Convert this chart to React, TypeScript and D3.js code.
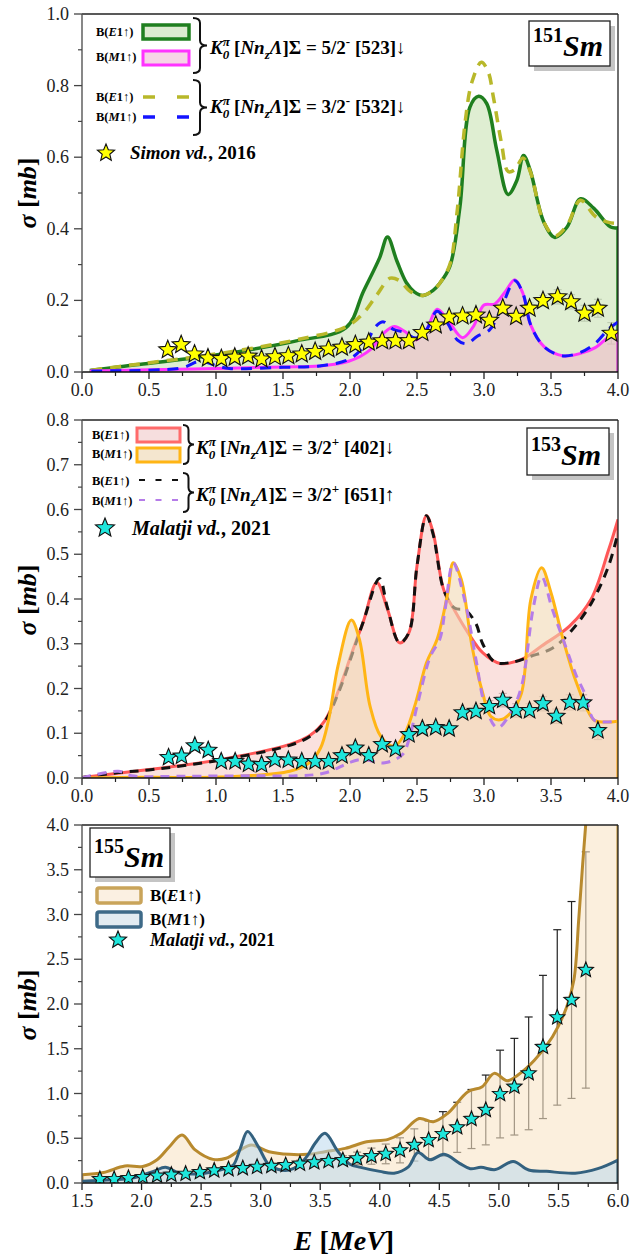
import React from "react";
import * as d3 from "d3";

type Pt = [number, number];
type Obs = [number, number, number];

const FONT = '"Liberation Serif", "Times New Roman", Times, serif';

// ---------- 151Sm ----------
const sm151E1a: Pt[] = [
  [0.07, 0.005], [0.4, 0.02], [0.8, 0.038], [1.2, 0.059], [1.6, 0.087], [1.97, 0.124],
  [2.1, 0.225], [2.22, 0.318], [2.28, 0.377], [2.35, 0.31], [2.42, 0.25], [2.48, 0.224],
  [2.545, 0.214], [2.62, 0.228], [2.67, 0.248], [2.745, 0.295], [2.82, 0.46], [2.895, 0.74],
  [2.96, 0.77], [3.02, 0.75], [3.095, 0.62], [3.18, 0.496], [3.245, 0.535], [3.295, 0.605],
  [3.345, 0.563], [3.445, 0.42], [3.53, 0.376], [3.62, 0.405], [3.72, 0.484], [3.82, 0.457],
  [3.945, 0.405], [4.0, 0.403],
];
const sm151E1b: Pt[] = [
  [0.07, 0.005], [0.4, 0.021], [0.8, 0.04], [1.2, 0.062], [1.6, 0.09], [1.97, 0.126],
  [2.1, 0.165], [2.2, 0.215], [2.3, 0.262], [2.37, 0.255], [2.45, 0.225], [2.545, 0.214],
  [2.62, 0.228], [2.67, 0.248], [2.745, 0.3], [2.8, 0.45], [2.86, 0.7], [2.91, 0.81],
  [2.98, 0.865], [3.03, 0.84], [3.07, 0.768], [3.13, 0.64], [3.18, 0.56], [3.23, 0.565],
  [3.29, 0.598], [3.345, 0.56], [3.445, 0.42], [3.53, 0.38], [3.62, 0.41], [3.72, 0.48],
  [3.83, 0.435], [3.93, 0.418], [4.0, 0.415],
];
const sm151M1a: Pt[] = [
  [0.07, 0.003], [0.5, 0.006], [1.0, 0.01], [1.5, 0.014], [1.77, 0.017], [1.99, 0.03],
  [2.15, 0.062], [2.25, 0.108], [2.33, 0.127], [2.41, 0.113], [2.49, 0.09], [2.57, 0.118],
  [2.65, 0.175], [2.73, 0.145], [2.84, 0.096], [2.92, 0.127], [3.0, 0.187], [3.08, 0.19],
  [3.16, 0.225], [3.23, 0.258], [3.29, 0.22], [3.35, 0.13], [3.45, 0.07], [3.59, 0.045],
  [3.72, 0.052], [3.83, 0.068], [3.93, 0.098], [4.0, 0.11],
];
const sm151M1b: Pt[] = [
  [0.07, 0.003], [0.5, 0.005], [0.75, 0.012], [0.88, 0.03], [1.0, 0.018], [1.1, 0.01],
  [1.5, 0.013], [1.77, 0.017], [1.99, 0.035], [2.1, 0.07], [2.2, 0.13], [2.25, 0.14],
  [2.32, 0.12], [2.41, 0.11], [2.49, 0.095], [2.57, 0.118], [2.65, 0.17], [2.73, 0.135],
  [2.8, 0.09], [2.87, 0.079], [2.95, 0.1], [3.04, 0.117], [3.12, 0.17], [3.23, 0.255],
  [3.29, 0.22], [3.35, 0.13], [3.45, 0.07], [3.59, 0.045], [3.72, 0.055], [3.83, 0.08],
  [3.93, 0.12], [4.0, 0.14],
];
const sm151Simon: Obs[] = [
  [0.64, 0.062, 0.005], [0.74, 0.076, 0.005], [0.84, 0.05, 0.005], [0.94, 0.039, 0.005],
  [1.04, 0.037, 0.005], [1.14, 0.041, 0.005], [1.24, 0.044, 0.005], [1.34, 0.036, 0.005],
  [1.44, 0.042, 0.005], [1.54, 0.045, 0.005], [1.64, 0.05, 0.005], [1.74, 0.057, 0.005],
  [1.84, 0.064, 0.005], [1.94, 0.069, 0.005], [2.04, 0.076, 0.005], [2.14, 0.083, 0.005],
  [2.24, 0.087, 0.006], [2.34, 0.087, 0.006], [2.44, 0.087, 0.006], [2.54, 0.11, 0.007],
  [2.64, 0.131, 0.008], [2.74, 0.153, 0.008], [2.84, 0.156, 0.009], [2.94, 0.159, 0.01],
  [3.04, 0.144, 0.01], [3.14, 0.178, 0.012], [3.24, 0.155, 0.012], [3.34, 0.178, 0.015],
  [3.44, 0.199, 0.015], [3.55, 0.21, 0.02], [3.65, 0.196, 0.02], [3.75, 0.164, 0.022],
  [3.85, 0.178, 0.025], [3.95, 0.108, 0.03],
];

// ---------- 153Sm ----------
const sm153E1a: Pt[] = [
  [0.0, 0.001], [0.5, 0.019], [1.03, 0.041], [1.55, 0.075], [1.7, 0.095], [1.81, 0.127],
  [1.92, 0.2], [2.02, 0.285], [2.1, 0.35], [2.2, 0.437], [2.28, 0.377], [2.37, 0.302],
  [2.44, 0.325], [2.5, 0.474], [2.57, 0.586], [2.62, 0.549], [2.7, 0.42], [2.78, 0.375],
  [2.88, 0.325], [2.99, 0.28], [3.12, 0.256], [3.28, 0.265], [3.43, 0.295], [3.64, 0.34],
  [3.8, 0.4], [3.93, 0.51], [4.0, 0.578],
];
const sm153E1b: Pt[] = [
  [0.0, 0.001], [0.27, 0.012], [0.5, 0.018], [1.03, 0.04], [1.55, 0.073], [1.7, 0.093],
  [1.81, 0.125], [1.92, 0.195], [2.02, 0.28], [2.1, 0.35], [2.22, 0.446], [2.28, 0.38],
  [2.37, 0.302], [2.44, 0.325], [2.5, 0.474], [2.57, 0.586], [2.62, 0.545], [2.7, 0.42],
  [2.78, 0.38], [2.86, 0.375], [2.94, 0.345], [2.99, 0.3], [3.08, 0.259], [3.2, 0.258],
  [3.35, 0.272], [3.51, 0.29], [3.64, 0.325], [3.8, 0.39], [3.93, 0.474], [4.0, 0.548],
];
const sm153M1a: Pt[] = [
  [0.0, 0.0], [0.5, 0.0015], [1.03, 0.002], [1.55, 0.015], [1.7, 0.035], [1.78, 0.067],
  [1.84, 0.13], [1.91, 0.25], [2.01, 0.353], [2.07, 0.31], [2.15, 0.16], [2.23, 0.093],
  [2.33, 0.071], [2.41, 0.1], [2.49, 0.168], [2.57, 0.257], [2.65, 0.31], [2.73, 0.414],
  [2.77, 0.481], [2.83, 0.444], [2.91, 0.295], [2.99, 0.19], [3.05, 0.138], [3.12, 0.13],
  [3.2, 0.146], [3.28, 0.19], [3.35, 0.4], [3.43, 0.47], [3.5, 0.414], [3.59, 0.31],
  [3.69, 0.213], [3.82, 0.13], [3.9, 0.125], [4.0, 0.127],
];
const sm153M1b: Pt[] = [
  [0.0, 0.0], [0.27, 0.015], [0.37, 0.005], [0.76, 0.004], [1.29, 0.005], [1.6, 0.005],
  [1.81, 0.011], [2.07, 0.041], [2.26, 0.034], [2.39, 0.052], [2.44, 0.086], [2.5, 0.16],
  [2.6, 0.272], [2.67, 0.31], [2.71, 0.377], [2.77, 0.481], [2.86, 0.392], [2.94, 0.265],
  [3.01, 0.16], [3.1, 0.112], [3.2, 0.146], [3.28, 0.205], [3.37, 0.384], [3.43, 0.45],
  [3.51, 0.377], [3.59, 0.31], [3.69, 0.228], [3.75, 0.19], [3.82, 0.13], [3.9, 0.125],
  [4.0, 0.127],
];
const sm153Malatji: Obs[] = [
  [0.646, 0.046, 0.006], [0.743, 0.049, 0.006], [0.842, 0.072, 0.007], [0.942, 0.062, 0.007],
  [1.039, 0.037, 0.006], [1.143, 0.037, 0.006], [1.243, 0.031, 0.006], [1.34, 0.03, 0.006],
  [1.44, 0.041, 0.006], [1.54, 0.04, 0.006], [1.64, 0.037, 0.006], [1.74, 0.037, 0.006],
  [1.84, 0.037, 0.006], [1.94, 0.05, 0.007], [2.04, 0.067, 0.007], [2.14, 0.05, 0.007],
  [2.24, 0.075, 0.008], [2.34, 0.065, 0.008], [2.44, 0.097, 0.009], [2.54, 0.11, 0.009],
  [2.64, 0.113, 0.01], [2.74, 0.11, 0.01], [2.84, 0.146, 0.011], [2.94, 0.149, 0.012],
  [3.04, 0.16, 0.013], [3.14, 0.174, 0.015], [3.24, 0.151, 0.015], [3.34, 0.151, 0.015],
  [3.44, 0.166, 0.016], [3.54, 0.138, 0.016], [3.64, 0.169, 0.017], [3.74, 0.168, 0.018],
  [3.85, 0.106, 0.02],
];

// ---------- 155Sm ----------
const sm155E1: Pt[] = [
  [1.5, 0.092], [1.68, 0.118], [1.86, 0.19], [2.01, 0.185], [2.13, 0.26], [2.23, 0.4],
  [2.34, 0.536], [2.45, 0.37], [2.6, 0.264], [2.71, 0.276], [2.83, 0.37], [2.92, 0.425],
  [3.07, 0.35], [3.24, 0.32], [3.39, 0.32], [3.54, 0.35], [3.71, 0.387], [3.89, 0.46],
  [4.07, 0.488], [4.18, 0.555], [4.33, 0.72], [4.45, 0.685], [4.57, 0.778], [4.74, 1.02],
  [4.86, 1.076], [4.96, 1.225], [5.07, 1.143], [5.16, 1.207], [5.3, 1.374], [5.45, 1.635],
  [5.57, 1.97], [5.63, 2.27], [5.67, 2.94], [5.7, 3.5], [5.74, 4.2], [5.8, 5.4],
  [5.9, 7.0], [6.0, 8.5],
];
const sm155M1: Pt[] = [
  [1.5, 0.02], [1.75, 0.035], [1.92, 0.055], [2.1, 0.13], [2.2, 0.175], [2.32, 0.11],
  [2.53, 0.11], [2.71, 0.165], [2.77, 0.2], [2.83, 0.39], [2.89, 0.575], [2.98, 0.406],
  [3.07, 0.2], [3.15, 0.15], [3.24, 0.145], [3.32, 0.2], [3.39, 0.3], [3.46, 0.45],
  [3.54, 0.555], [3.65, 0.35], [3.75, 0.21], [3.84, 0.175], [4.0, 0.13], [4.12, 0.11],
  [4.24, 0.18], [4.32, 0.34], [4.42, 0.26], [4.54, 0.32], [4.67, 0.22], [4.76, 0.16],
  [4.85, 0.175], [4.97, 0.15], [5.12, 0.24], [5.25, 0.145], [5.4, 0.13], [5.64, 0.11],
  [5.83, 0.16], [6.0, 0.257],
];
const sm155Malatji: Obs[] = [
  [1.65, 0.044, 0.02], [1.77, 0.044, 0.02], [1.89, 0.055, 0.02], [2.01, 0.066, 0.02],
  [2.13, 0.081, 0.02], [2.25, 0.092, 0.02], [2.37, 0.103, 0.02], [2.49, 0.121, 0.02],
  [2.61, 0.14, 0.02], [2.73, 0.154, 0.02], [2.85, 0.165, 0.02], [2.97, 0.18, 0.02],
  [3.09, 0.19, 0.03], [3.21, 0.2, 0.03], [3.33, 0.215, 0.04], [3.45, 0.23, 0.04],
  [3.57, 0.245, 0.04], [3.69, 0.255, 0.05], [3.81, 0.275, 0.07], [3.93, 0.3, 0.09],
  [4.05, 0.325, 0.11], [4.17, 0.365, 0.14], [4.29, 0.425, 0.18], [4.41, 0.48, 0.21],
  [4.53, 0.547, 0.25], [4.65, 0.622, 0.28], [4.77, 0.715, 0.33], [4.89, 0.816, 0.39],
  [5.01, 0.994, 0.49], [5.13, 1.076, 0.54], [5.25, 1.225, 0.63], [5.37, 1.52, 0.8],
  [5.49, 1.85, 0.98], [5.61, 2.045, 1.1], [5.73, 2.38, 1.32],
];

// ---------- axes ----------
const ticks04 = [0, 0.5, 1, 1.5, 2, 2.5, 3, 3.5, 4];
const ticks156 = [1.5, 2, 2.5, 3, 3.5, 4, 4.5, 5, 5.5, 6];
const yTicks1 = [0, 0.2, 0.4, 0.6, 0.8, 1.0];
const yTicks2 = [0, 0.1, 0.2, 0.3, 0.4, 0.5, 0.6, 0.7, 0.8];
const yTicks3 = [0, 0.5, 1, 1.5, 2, 2.5, 3, 3.5, 4];

const W = 632;
const H = 1259;
const X0 = 82;
const X1 = 618;
const curve = d3.curveCatmullRom.alpha(0.5);
const fmt = d3.format(".1f");

function starPath(cx: number, cy: number, R: number) {
  const r = R * 0.44;
  let d = "";
  for (let i = 0; i < 10; i++) {
    const a = -Math.PI / 2 + (i * Math.PI) / 5;
    const rr = i % 2 === 0 ? R : r;
    d += (i === 0 ? "M" : "L") + (cx + rr * Math.cos(a)).toFixed(2) + "," + (cy + rr * Math.sin(a)).toFixed(2);
  }
  return d + "Z";
}

function bracePath(x: number, y1: number, y2: number, w: number) {
  const ym = (y1 + y2) / 2;
  const h = w / 2;
  const q = 5;
  return `M${x},${y1} Q${x + h},${y1} ${x + h},${y1 + q} L${x + h},${ym - q} Q${x + h},${ym} ${x + w},${ym} Q${x + h},${ym} ${x + h},${ym + q} L${x + h},${y2 - q} Q${x + h},${y2} ${x},${y2}`;
}

type Sc = d3.ScaleLinear<number, number>;

function Panel(props: {
  id: string;
  top: number;
  bottom: number;
  xDomain: [number, number];
  yDomain: [number, number];
  xTicks: number[];
  yTicks: number[];
  yMinorStep: number;
  labelY: number;
  render: (x: Sc, y: Sc) => React.ReactNode;
}) {
  const { top, bottom, xTicks, yTicks } = props;
  const x = d3.scaleLinear().domain(props.xDomain).range([X0, X1]);
  const y = d3.scaleLinear().domain(props.yDomain).range([bottom, top]);
  const xMinor = xTicks.slice(1).map((t, i) => (t + xTicks[i]) / 2);
  const yMinor = d3.range(props.yDomain[0] + props.yMinorStep, props.yDomain[1], props.yMinorStep)
    .filter((v) => !yTicks.some((t) => Math.abs(t - v) < 1e-6));
  return (
    <g>
      <defs>
        <clipPath id={props.id}>
          <rect x={X0} y={top} width={X1 - X0} height={bottom - top} />
        </clipPath>
      </defs>
      <g clipPath={`url(#${props.id})`}>{props.render(x, y)}</g>
      <line x1={X0} x2={X1} y1={top} y2={top} stroke="#222" strokeWidth={1.3} />
      <line x1={X1} x2={X1} y1={top} y2={bottom} stroke="#222" strokeWidth={1.3} />
      <line x1={X0} x2={X1} y1={bottom} y2={bottom} stroke="#111" strokeWidth={1.4} />
      <line x1={X0} x2={X0} y1={top} y2={bottom} stroke="#555" strokeWidth={1.4} />
      {xTicks.map((t) => (
        <g key={"xt" + t}>
          <line x1={x(t)} x2={x(t)} y1={bottom} y2={bottom + 7} stroke="#222" strokeWidth={1.3} />
          <text x={x(t)} y={bottom + 24} textAnchor="middle" fontSize={18} fill="#222">{fmt(t)}</text>
        </g>
      ))}
      {xMinor.map((t) => (
        <line key={"xm" + t} x1={x(t)} x2={x(t)} y1={bottom} y2={bottom + 4} stroke="#222" strokeWidth={1.2} />
      ))}
      {yTicks.map((t) => (
        <g key={"yt" + t}>
          <line x1={X0 - 8} x2={X0} y1={y(t)} y2={y(t)} stroke="#444" strokeWidth={1.3} />
          <text x={X0 - 13} y={y(t) + 6} textAnchor="end" fontSize={18} fill="#222">{fmt(t)}</text>
        </g>
      ))}
      {yMinor.map((t) => (
        <line key={"ym" + t} x1={X0 - 4} x2={X0} y1={y(t)} y2={y(t)} stroke="#444" strokeWidth={1.2} />
      ))}
      <text transform={`translate(36,${props.labelY}) rotate(-90)`} textAnchor="middle" fontSize={26} fontWeight="bold">
        <tspan fontStyle="italic">σ</tspan>
        <tspan> [</tspan>
        <tspan fontStyle="italic">mb</tspan>
        <tspan>]</tspan>
      </text>
    </g>
  );
}

function helpers(x: Sc, y: Sc) {
  const line = d3.line<Pt>().x((d) => x(d[0])).y((d) => y(d[1])).curve(curve);
  const area = d3.area<Pt>().x((d) => x(d[0])).y0(y(0)).y1((d) => y(d[1])).curve(curve);
  const outline = (data: Pt[]) => {
    const l = line(data) || "";
    const a = data[0];
    const b = data[data.length - 1];
    return `M${x(a[0])},${y(0)}L${l.slice(1)}L${x(b[0])},${y(0)}`;
  };
  const errs = (obs: Obs[], color: string, key: string) =>
    obs.map((o, i) => (
      <g key={key + i} stroke={color} strokeWidth={1.2}>
        <line x1={x(o[0])} x2={x(o[0])} y1={y(o[1] - o[2])} y2={y(o[1] + o[2])} />
        <line x1={x(o[0]) - 4} x2={x(o[0]) + 4} y1={y(o[1] - o[2])} y2={y(o[1] - o[2])} />
        <line x1={x(o[0]) - 4} x2={x(o[0]) + 4} y1={y(o[1] + o[2])} y2={y(o[1] + o[2])} />
      </g>
    ));
  const stars = (obs: Obs[], fill: string, R: number, key: string) =>
    obs.map((o, i) => (
      <path key={key + i} d={starPath(x(o[0]), y(o[1]), R)} fill={fill} stroke="#111" strokeWidth={1.1} strokeLinejoin="miter" />
    ));
  return { line, area, outline, errs, stars };
}

function Kpi(props: { x: number; y: number; frac: string; sign: string; orbit: string; arrow: string }) {
  return (
    <text x={props.x} y={props.y} fontSize={19} fontWeight="bold">
      <tspan fontStyle="italic">K</tspan>
      <tspan fontStyle="italic" fontSize={13} baselineShift="8">π</tspan>
      <tspan fontStyle="italic" fontSize={13} dx={-7} baselineShift="-5">0</tspan>
      <tspan> [</tspan>
      <tspan fontStyle="italic">Nn</tspan>
      <tspan fontStyle="italic" fontSize={13} baselineShift="-5">z</tspan>
      <tspan fontStyle="italic">Λ</tspan>
      <tspan>]Σ = {props.frac}</tspan>
      <tspan fontSize={13} baselineShift="8">{props.sign}</tspan>
      <tspan> [{props.orbit}]{props.arrow}</tspan>
    </text>
  );
}

function BLabel(props: { x: number; y: number; m: string; size: number }) {
  return (
    <text x={props.x} y={props.y} fontSize={props.size} fontWeight="bold">
      <tspan>B(</tspan>
      <tspan fontStyle="italic">{props.m}</tspan>
      <tspan>1↑)</tspan>
    </text>
  );
}

function NucBox(props: { x: number; y: number; w: number; h: number; mass: string }) {
  const { x, y, w, h } = props;
  return (
    <g>
      <rect x={x + 5} y={y + 5} width={w} height={h} fill="#c4c4c4" />
      <rect x={x} y={y} width={w} height={h} fill="#fff" stroke="#222" strokeWidth={1.3} />
      <text x={x + 4} y={y + h - 10} fontWeight="bold">
        <tspan fontSize={20} baselineShift="14">{props.mass}</tspan>
        <tspan fontSize={30} fontStyle="italic">Sm</tspan>
      </text>
    </g>
  );
}

export default function App() {
  return (
    <svg width={W} height={H} style={{ position: "absolute", left: 0, top: 0, background: "#fff", fontFamily: FONT }}>
      <style>{`text, tspan { font-family: ${FONT}; }`}</style>
      {/* ---------------- 151Sm ---------------- */}
      <Panel
        id="c1" top={14} bottom={372} xDomain={[0, 4]} yDomain={[0, 1]}
        xTicks={ticks04} yTicks={yTicks1} yMinorStep={0.1} labelY={193}
        render={(x, y) => {
          const h = helpers(x, y);
          return (
            <g>
              {h.errs(sm151Simon, "#8a8a8a", "e1")}
              <path d={h.area(sm151E1a) || ""} fill="#d3e8c0" fillOpacity={0.72} />
              <path d={h.outline(sm151E1a)} fill="none" stroke="#1f7f1f" strokeWidth={3.5} />
              <path d={h.line(sm151E1b) || ""} fill="none" stroke="#b8b82a" strokeWidth={3.5} strokeDasharray="11,8" />
              <path d={h.area(sm151M1a) || ""} fill="#f0b8c8" fillOpacity={0.55} />
              <path d={h.outline(sm151M1a)} fill="none" stroke="#ff33ff" strokeWidth={3} />
              <path d={h.line(sm151M1b) || ""} fill="none" stroke="#1414ff" strokeWidth={3} strokeDasharray="11,8" />
              {h.stars(sm151Simon, "#ffff00", 9.5, "s1")}
            </g>
          );
        }}
      />
      <BLabel x={96} y={36} m="E" size={12.5} />
      <rect x={143} y={25} width={46} height={14} fill="#dcebd0" stroke="#1f7f1f" strokeWidth={3.5} />
      <BLabel x={96} y={61} m="M" size={12.5} />
      <rect x={143} y={51} width={46} height={14} fill="#f6d4e6" stroke="#ff33ff" strokeWidth={3} />
      <path d={bracePath(193, 18, 73, 14)} fill="none" stroke="#111" strokeWidth={2} />
      <Kpi x={210} y={54} frac="5/2" sign="-" orbit="523" arrow="↓" />
      <BLabel x={96} y={101} m="E" size={12.5} />
      <line x1={143} x2={189} y1={97} y2={97} stroke="#b8b82a" strokeWidth={3.5} strokeDasharray="12,22" />
      <BLabel x={96} y={121} m="M" size={12.5} />
      <line x1={143} x2={189} y1={117} y2={117} stroke="#1414ff" strokeWidth={3.5} strokeDasharray="12,22" />
      <path d={bracePath(193, 80, 135, 14)} fill="none" stroke="#111" strokeWidth={2} />
      <Kpi x={210} y={113} frac="3/2" sign="-" orbit="532" arrow="↓" />
      <path d={starPath(106, 153, 9)} fill="#ffff00" stroke="#111" strokeWidth={1.1} />
      <text x={130} y={159} fontSize={19} fontWeight="bold">
        <tspan fontStyle="italic">Simon vd.</tspan>
        <tspan>, 2016</tspan>
      </text>
      <NucBox x={529} y={21} w={81} h={45} mass="151" />

      {/* ---------------- 153Sm ---------------- */}
      <Panel
        id="c2" top={420} bottom={778} xDomain={[0, 4]} yDomain={[0, 0.8]}
        xTicks={ticks04} yTicks={yTicks2} yMinorStep={0.05} labelY={600}
        render={(x, y) => {
          const h = helpers(x, y);
          return (
            <g>
              {h.errs(sm153Malatji, "#8a8a8a", "e2")}
              <path d={h.area(sm153E1a) || ""} fill="#f6cdc8" fillOpacity={0.6} />
              <path d={h.outline(sm153E1a)} fill="none" stroke="#ff5757" strokeWidth={3} />
              <path d={h.line(sm153E1b) || ""} fill="none" stroke="#111" strokeWidth={3} strokeDasharray="9,7" />
              <path d={h.area(sm153M1a) || ""} fill="#f2d8b4" fillOpacity={0.6} />
              <path d={h.outline(sm153M1a)} fill="none" stroke="#ffb515" strokeWidth={3} />
              <path d={h.line(sm153M1b) || ""} fill="none" stroke="#b57ce8" strokeWidth={3} strokeDasharray="9,7" />
              {h.stars(sm153Malatji, "#1ee6dc", 9, "s2")}
            </g>
          );
        }}
      />
      <BLabel x={92} y={439} m="E" size={12.5} />
      <rect x={137} y={428} width={43} height={14} fill="#f6dede" stroke="#ff6b6b" strokeWidth={3} />
      <BLabel x={92} y={458} m="M" size={12.5} />
      <rect x={137} y={448} width={43} height={14} fill="#f4e6cf" stroke="#ffb515" strokeWidth={3} />
      <path d={bracePath(183, 425, 464, 11)} fill="none" stroke="#111" strokeWidth={2} />
      <Kpi x={196} y={454} frac="3/2" sign="+" orbit="402" arrow="↓" />
      <BLabel x={92} y={485} m="E" size={12.5} />
      <line x1={139} x2={178} y1={480} y2={480} stroke="#111" strokeWidth={2} strokeDasharray="6,10.5" />
      <BLabel x={92} y={505} m="M" size={12.5} />
      <line x1={139} x2={178} y1={500} y2={500} stroke="#b57ce8" strokeWidth={2} strokeDasharray="6,10.5" />
      <path d={bracePath(183, 473, 512, 11)} fill="none" stroke="#111" strokeWidth={2} />
      <Kpi x={196} y={501} frac="3/2" sign="+" orbit="651" arrow="↑" />
      <path d={starPath(105, 528, 10)} fill="#1ee6dc" stroke="#111" strokeWidth={1.1} />
      <text x={132} y={535} fontSize={20} fontWeight="bold">
        <tspan fontStyle="italic">Malatji vd.</tspan>
        <tspan>, 2021</tspan>
      </text>
      <NucBox x={527} y={428} w={82} h={47} mass="153" />

      {/* ---------------- 155Sm ---------------- */}
      <Panel
        id="c3" top={825} bottom={1183} xDomain={[1.5, 6]} yDomain={[0, 4]}
        xTicks={ticks156} yTicks={yTicks3} yMinorStep={0.25} labelY={1005}
        render={(x, y) => {
          const h = helpers(x, y);
          return (
            <g>
              {h.errs(sm155Malatji, "#222", "e3")}
              <path d={h.area(sm155E1) || ""} fill="#f8e4c6" fillOpacity={0.6} />
              <path d={h.outline(sm155E1)} fill="none" stroke="#b88a2e" strokeWidth={3} />
              <path d={h.area(sm155M1) || ""} fill="#bcd8ec" fillOpacity={0.55} />
              <path d={h.outline(sm155M1)} fill="none" stroke="#33617f" strokeWidth={3} />
              {h.stars(sm155Malatji, "#1ee6dc", 8, "s3")}
            </g>
          );
        }}
      />
      <NucBox x={90} y={828} w={80} h={49} mass="155" />
      <rect x={97} y={888} width={44} height={15} rx={2} fill="#fbf0e2" stroke="#c9a45a" strokeWidth={3.5} />
      <BLabel x={150} y={901} m="E" size={17} />
      <rect x={97} y={912} width={44} height={15} rx={2} fill="#e2ebf1" stroke="#3e6a88" strokeWidth={3.5} />
      <BLabel x={150} y={925} m="M" size={17} />
      <path d={starPath(118, 940, 9)} fill="#1ee6dc" stroke="#111" strokeWidth={1.1} />
      <text x={150} y={946} fontSize={18} fontWeight="bold">
        <tspan fontStyle="italic">Malatji vd.</tspan>
        <tspan>, 2021</tspan>
      </text>
      <text x={344} y={1250} textAnchor="middle" fontSize={28} fontWeight="bold" fontStyle="italic">
        <tspan>E</tspan>
        <tspan fontStyle="normal"> [</tspan>
        <tspan>MeV</tspan>
        <tspan fontStyle="normal">]</tspan>
      </text>
    </svg>
  );
}
